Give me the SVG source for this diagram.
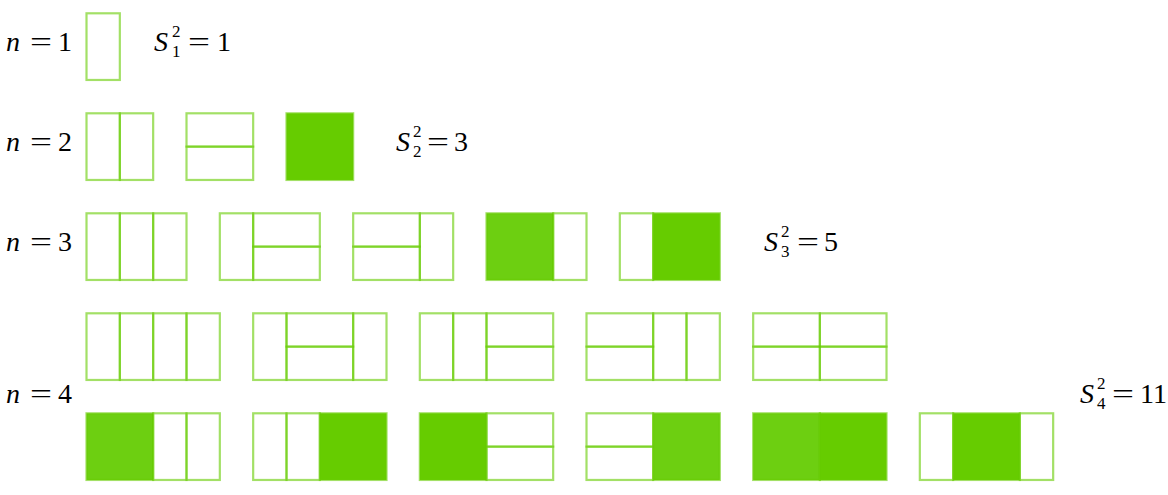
<svg xmlns="http://www.w3.org/2000/svg" width="1168" height="495" viewBox="0 0 1168 495">
<style>
.c{fill:none;stroke:#66cc00;stroke-opacity:.6;stroke-width:2.2}
.f{fill:#66cc00;stroke:#66cc00;stroke-opacity:.6;stroke-width:2.2}
.fl{fill:#6dcf11;stroke:#66cc00;stroke-opacity:.6;stroke-width:2.2}
.i{font-style:italic}
</style>
<defs>
<rect id="v" width="33.33" height="66.67"/>
<g id="h2"><rect width="66.67" height="33.33"/><rect y="33.33" width="66.67" height="33.33"/></g>
<rect id="sq" width="66.67" height="66.67"/>
</defs>
<rect width="1168" height="495" fill="#fff"/>

<g id="n1">
<g transform="translate(86.5,13.3)"><use href="#v" class="c"/></g>
</g>

<g id="n2">
<g transform="translate(86.5,113.3)"><use href="#v" class="c"/><use href="#v" x="33.33" class="c"/></g>
<g transform="translate(186.5,113.3)"><use href="#h2" class="c"/></g>
<g transform="translate(286.5,113.3)"><use href="#sq" class="f"/></g>
</g>

<g id="n3">
<g transform="translate(86.5,213.3)"><use href="#v" class="c"/><use href="#v" x="33.33" class="c"/><use href="#v" x="66.67" class="c"/></g>
<g transform="translate(219.83,213.3)"><use href="#v" class="c"/><use href="#h2" x="33.33" class="c"/></g>
<g transform="translate(353.17,213.3)"><use href="#h2" class="c"/><use href="#v" x="66.67" class="c"/></g>
<g transform="translate(486.5,213.3)"><use href="#sq" class="fl"/><use href="#v" x="66.67" class="c"/></g>
<g transform="translate(619.83,213.3)"><use href="#v" class="c"/><use href="#sq" x="33.33" class="f"/></g>
</g>

<g id="n4a">
<g transform="translate(86.5,313.3)"><use href="#v" class="c"/><use href="#v" x="33.33" class="c"/><use href="#v" x="66.67" class="c"/><use href="#v" x="100" class="c"/></g>
<g transform="translate(253.17,313.3)"><use href="#v" class="c"/><use href="#h2" x="33.33" class="c"/><use href="#v" x="100" class="c"/></g>
<g transform="translate(419.83,313.3)"><use href="#v" class="c"/><use href="#v" x="33.33" class="c"/><use href="#h2" x="66.67" class="c"/></g>
<g transform="translate(586.5,313.3)"><use href="#h2" class="c"/><use href="#v" x="66.67" class="c"/><use href="#v" x="100" class="c"/></g>
<g transform="translate(753.17,313.3)"><use href="#h2" class="c"/><use href="#h2" x="66.67" class="c"/></g>
</g>

<g id="n4b">
<g transform="translate(86.5,413.3)"><use href="#sq" class="fl"/><use href="#v" x="66.67" class="c"/><use href="#v" x="100" class="c"/></g>
<g transform="translate(253.17,413.3)"><use href="#v" class="c"/><use href="#v" x="33.33" class="c"/><use href="#sq" x="66.67" class="f"/></g>
<g transform="translate(419.83,413.3)"><use href="#sq" class="f"/><use href="#h2" x="66.67" class="c"/></g>
<g transform="translate(586.5,413.3)"><use href="#h2" class="c"/><use href="#sq" x="66.67" class="fl"/></g>
<g transform="translate(753.17,413.3)"><use href="#sq" class="fl"/><use href="#sq" x="66.67" class="f"/></g>
<g transform="translate(919.83,413.3)"><use href="#v" class="c"/><use href="#sq" x="33.33" class="f"/><use href="#v" x="100" class="c"/></g>
</g>

<g id="labels" font-family="'Liberation Serif', 'Times New Roman', serif" font-size="28" fill="#000">
<text x="6" y="51" class="i">n</text><text x="30" y="51" textLength="22" lengthAdjust="spacingAndGlyphs">=</text><text x="58" y="51">1</text>
<text x="6" y="151" class="i">n</text><text x="30" y="151" textLength="22" lengthAdjust="spacingAndGlyphs">=</text><text x="58" y="151">2</text>
<text x="6" y="251" class="i">n</text><text x="30" y="251" textLength="22" lengthAdjust="spacingAndGlyphs">=</text><text x="58" y="251">3</text>
<text x="6" y="403" class="i">n</text><text x="30" y="403" textLength="22" lengthAdjust="spacingAndGlyphs">=</text><text x="58" y="403">4</text>

<g font-size="17">
<text x="172" y="37">2</text><text x="172" y="57">1</text>
<text x="413" y="137">2</text><text x="413" y="157">2</text>
<text x="781" y="237">2</text><text x="781" y="257">3</text>
<text x="1097" y="389">2</text><text x="1097" y="409">4</text>
</g>
<text x="154" y="51" class="i">S</text><text x="188" y="51" textLength="22" lengthAdjust="spacingAndGlyphs">=</text><text x="217" y="51">1</text>
<text x="396" y="151" class="i">S</text><text x="427" y="151" textLength="22" lengthAdjust="spacingAndGlyphs">=</text><text x="454" y="151">3</text>
<text x="764" y="251" class="i">S</text><text x="797" y="251" textLength="22" lengthAdjust="spacingAndGlyphs">=</text><text x="824" y="251">5</text>
<text x="1080" y="403" class="i">S</text><text x="1112" y="403" textLength="22" lengthAdjust="spacingAndGlyphs">=</text><text x="1140" y="403">11</text>
</g>
</svg>
